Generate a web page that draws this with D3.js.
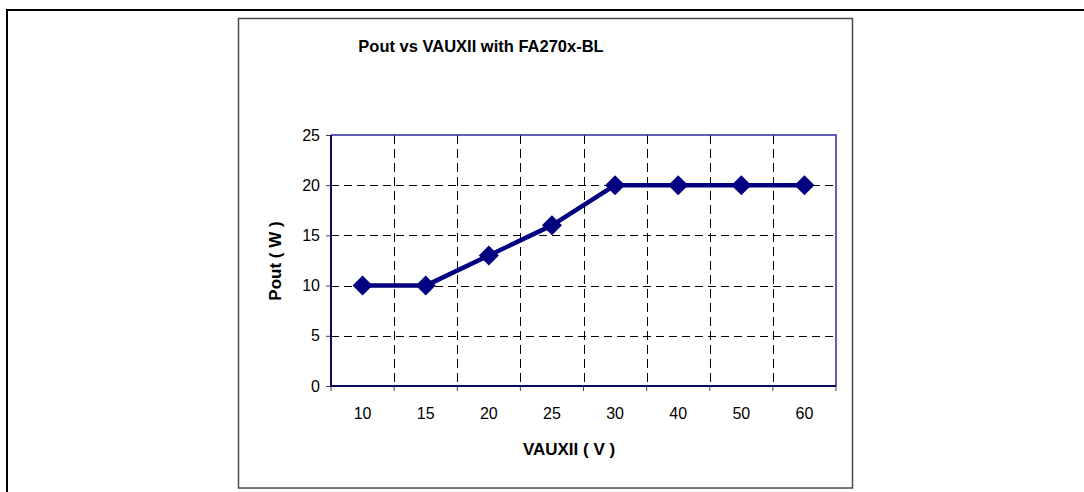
<!DOCTYPE html>
<html>
<head>
<meta charset="utf-8">
<script src="https://cdn.jsdelivr.net/npm/d3@7"></script>
<style>
  body { margin: 0; background: #fff; }
  text { font-family: "Liberation Sans", Arial, sans-serif; }
  .grid line { stroke: #000; stroke-width: 1; shape-rendering: crispEdges; }
  .grid path { stroke: none; }
</style>
</head>
<body>
<svg id="chart" width="1084" height="492"></svg>
<script>
// chart data
var categories = ["10", "15", "20", "25", "30", "40", "50", "60"];
var pout = [10, 10, 13, 16, 20, 20, 20, 20];
var yTicks = [0, 5, 10, 15, 20, 25];

function drawChart(svgNode) {
  var svg = d3.select(svgNode);

  // outer page frame (only left and top visible)
  svg.append("path")
      .attr("d", "M7,492 L7,10 L1084,10")
      .attr("fill", "none")
      .attr("stroke", "#000")
      .attr("stroke-width", 2);

  // chart area box
  svg.append("rect")
      .attr("x", 238.5).attr("y", 18.5)
      .attr("width", 614).attr("height", 469.5)
      .attr("fill", "#fff")
      .attr("stroke", "#4a4a4a")
      .attr("stroke-width", 1.5);

  // plot area
  var margin = {top: 135, left: 331},
      width = 505,
      height = 251;

  var x = d3.scaleBand().domain(categories).range([0, width]).padding(0);
  var y = d3.scaleLinear().domain([0, 25]).range([height, 0]);

  var g = svg.append("g")
      .attr("transform", "translate(" + margin.left + "," + margin.top + ")");

  // horizontal gridlines
  g.append("g")
      .attr("class", "grid")
      .call(d3.axisLeft(y).tickValues(yTicks.slice(1, -1)).tickSize(-width).tickFormat(""))
      .selectAll("line").attr("stroke-dasharray", "8,5");

  // vertical gridlines at category boundaries
  var bounds = categories.slice(1).map(function(c) { return x(c); });
  g.append("g")
      .attr("class", "grid")
      .selectAll("line")
      .data(bounds)
      .enter().append("line")
      .attr("x1", function(d) { return Math.round(d) + 0.5; })
      .attr("x2", function(d) { return Math.round(d) + 0.5; })
      .attr("y1", 0).attr("y2", height)
      .attr("stroke-dasharray", "9,5");

  // plot border top & right
  g.append("path")
      .attr("d", "M0,0 L" + width + ",0 L" + width + "," + height)
      .attr("fill", "none")
      .attr("stroke", "#2b2ba0")
      .attr("stroke-width", 1.5);

  // y axis
  var yAxis = g.append("g")
      .call(d3.axisLeft(y).tickValues(yTicks).tickSize(5).tickPadding(6));
  yAxis.select(".domain").remove();
  yAxis.selectAll("line").attr("stroke", "#444");
  yAxis.selectAll("text")
      .style("font-size", "16px")
      .attr("fill", "#000");

  // x axis ticks at category boundaries
  var allBounds = categories.map(function(c) { return x(c); }).concat([width]);
  g.append("g")
      .selectAll("line")
      .data(allBounds)
      .enter().append("line")
      .attr("x1", function(d) { return d; })
      .attr("x2", function(d) { return d; })
      .attr("y1", height).attr("y2", height + 5)
      .attr("stroke", "#444");

  g.append("g")
      .selectAll("text")
      .data(categories)
      .enter().append("text")
      .attr("x", function(d) { return x(d) + x.bandwidth() / 2; })
      .attr("y", height + 33)
      .attr("text-anchor", "middle")
      .style("font-size", "16px")
      .text(function(d) { return d; });

  // axis lines
  g.append("path")
      .attr("d", "M0,0 L0," + height + " L" + width + "," + height)
      .attr("fill", "none")
      .attr("stroke", "#0a0a60")
      .attr("stroke-width", 2);

  // data line
  var line = d3.line()
      .x(function(d, i) { return x(categories[i]) + x.bandwidth() / 2; })
      .y(function(d) { return y(d); });

  g.append("path")
      .datum(pout)
      .attr("d", line)
      .attr("fill", "none")
      .attr("stroke", "#000080")
      .attr("stroke-width", 4.5)
      .attr("stroke-linejoin", "round");

  // diamond markers
  g.selectAll(".marker")
      .data(pout)
      .enter().append("path")
      .attr("class", "marker")
      .attr("transform", function(d, i) {
        return "translate(" + (x(categories[i]) + x.bandwidth() / 2) + "," + y(d) + ")";
      })
      .attr("d", "M0,-10 L10,0 L0,10 L-10,0 Z")
      .attr("fill", "#000080");

  // title
  svg.append("text")
      .attr("x", 481)
      .attr("y", 52)
      .attr("text-anchor", "middle")
      .style("font-size", "16.5px")
      .style("font-weight", "bold")
      .text("Pout vs VAUXII with FA270x-BL");

  // x axis label
  svg.append("text")
      .attr("x", 569)
      .attr("y", 455)
      .attr("text-anchor", "middle")
      .style("font-size", "17px")
      .style("font-weight", "bold")
      .text("VAUXII ( V )");

  // y axis label
  svg.append("text")
      .attr("transform", "rotate(-90)")
      .attr("x", -261)
      .attr("y", 281)
      .attr("text-anchor", "middle")
      .style("font-size", "17px")
      .style("font-weight", "bold")
      .text("Pout ( W )");
}

drawChart(document.querySelector("#chart"));
</script>
</body>
</html>
